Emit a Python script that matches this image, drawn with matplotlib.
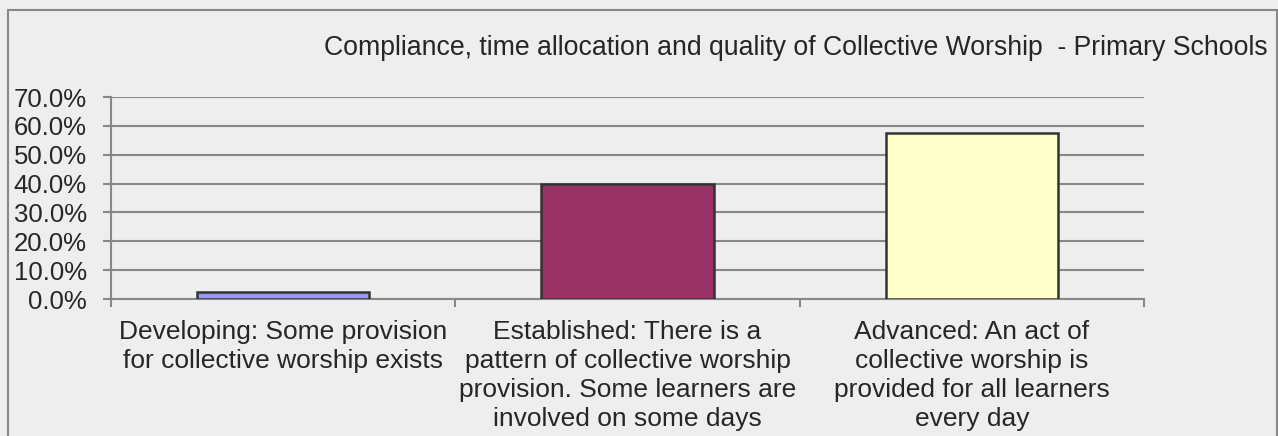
import matplotlib
matplotlib.use("Agg")
import numpy as np
import matplotlib.pyplot as plt
from matplotlib.patches import Rectangle
from matplotlib.ticker import FixedLocator, PercentFormatter

plt.rcParams['font.family'] = ['Liberation Sans', 'DejaVu Sans']

title = "Compliance, time allocation and quality of Collective Worship  - Primary Schools"
categories = [
    "Developing: Some provision\nfor collective worship exists",
    "Established: There is a\npattern of collective worship\nprovision. Some learners are\ninvolved on some days",
    "Advanced: An act of\ncollective worship is\nprovided for all learners\nevery day",
]
values = [2.4, 40.0, 57.4]
colors = ['#9999ff', '#993366', '#ffffcc']

bg = '#eeeeee'
grid_c = '#888888'
txt_c = '#262626'

fig = plt.figure(figsize=(12.78, 4.36), dpi=100, facecolor=bg)
ax = fig.add_axes([111/1278, 1-299/436, (1144-111)/1278, (299-97)/436])
ax.set_facecolor(bg)

x = np.arange(len(categories))
ax.bar(x, values, width=0.5, color=colors, edgecolor='#333333', linewidth=1.8, zorder=3)

ax.set_xlim(-0.5, len(categories)-0.5)
ax.set_ylim(0, 70)
ax.yaxis.set_major_locator(FixedLocator(np.arange(0, 71, 10)))
ax.yaxis.set_major_formatter(PercentFormatter(decimals=1))
ax.grid(axis='y', color=grid_c, linewidth=1.5, zorder=0)

ax.set_xticks(np.arange(-0.5, len(categories), 1.0))
ax.set_xticklabels([])
ax.set_xticks(x, minor=True)
ax.set_xticklabels(categories, minor=True, fontsize=19, color=txt_c, linespacing=1.27)
ax.tick_params(axis='x', which='minor', length=0, pad=15)
ax.tick_params(axis='x', which='major', length=6, width=1.5, color=grid_c)
ax.tick_params(axis='y', length=5.5, width=1.5, color=grid_c, labelsize=18.5,
               labelcolor=txt_c, pad=12)

for s in ['top', 'right']:
    ax.spines[s].set_visible(False)
for s in ['left', 'bottom']:
    ax.spines[s].set_color(grid_c)
    ax.spines[s].set_linewidth(1.5)

fig.text(1268/1278, 1-48/436, title, ha='right', va='center', fontsize=19.2, color=txt_c)

fig.patches.append(Rectangle((8/1278, -0.1), (1277-8)/1278, 1.1-10/436,
                             transform=fig.transFigure, fill=False,
                             edgecolor='#888888', linewidth=1.5))

fig.savefig('out.png', dpi=100, facecolor=bg)
